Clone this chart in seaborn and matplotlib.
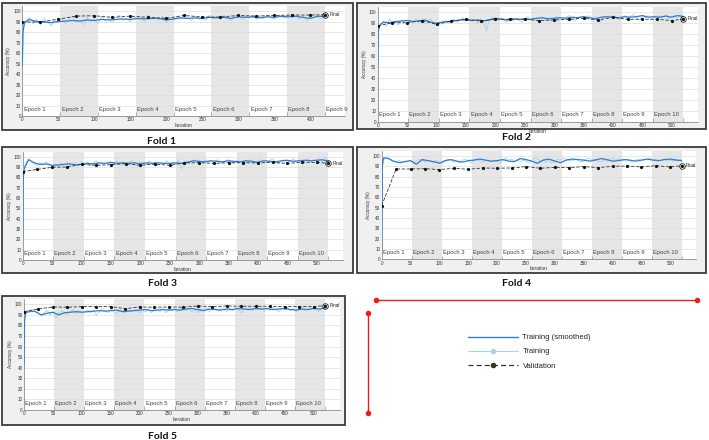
import matplotlib
matplotlib.use("Agg")
import matplotlib.pyplot as plt
from matplotlib.patches import Rectangle
from matplotlib.lines import Line2D
import seaborn as sns

sns.set_style("white")
plt.rcParams['font.family'] = ['Liberation Sans', 'DejaVu Sans']

W, H = 709, 440

# Iteration grids (training every 5 iters, smoothed every 10, validation every 25)
short_train_x = [0, 1] + list(range(5, 421, 5))
short_smooth_x = [0, 1, 3] + list(range(10, 421, 10))
short_val_x = list(range(0, 401, 25)) + [420]
long_train_x = [0, 1] + list(range(5, 521, 5))
long_smooth_x = [0, 1, 3] + list(range(10, 521, 10))
long_val_x = list(range(0, 501, 25)) + [520]

# ---- Fold 1 ----
f1_train = [48, 86,
            91, 94, 88, 92, 87, 93, 90, 86, 91, 89,
            93, 88, 92, 95, 89, 91, 87, 94, 90, 92,
            88, 95, 91, 93, 89, 94, 96, 91, 93, 90,
            95, 92, 94, 90, 96, 92, 94, 91, 95, 89,
            93, 91, 95, 92, 96, 93, 91, 95, 92, 94,
            91, 96, 93, 95, 92, 96, 93, 91, 95, 96,
            92, 95, 93, 96, 92, 95, 93, 96, 94, 92,
            96, 95, 93, 97, 94, 96, 92, 95, 91, 94,
            97, 95, 93, 96]
f1_smooth = [48, 80, 89,
             92, 90, 89.5, 89, 90, 90.5, 91, 90.5, 91.5, 91,
             92, 91.5, 92, 92.5, 92, 93, 92.5, 93, 93, 91.5,
             92.5, 93.5, 93, 93.5, 93, 94, 93.5, 94, 93, 94.5,
             94, 94.5, 93.5, 94.5, 94, 95, 94.5, 95, 94, 93,
             95, 95]
f1_val = [89.5, 89.5, 92.3, 95.2, 95.5, 94, 95.2, 94, 93, 95.8, 94.3, 94.3,
          95.8, 95.2, 95.8, 96.2, 96.2, 96.5]

# ---- Fold 2 ----
f2_train = [50, 86,
            89, 92, 87, 94, 90, 92, 88, 93, 91, 90,
            93, 90, 94, 91, 93, 89, 92, 94, 90, 88,
            91, 89, 93, 90, 92, 94, 91, 93, 95, 92,
            94, 92, 93, 90, 94, 91, 83, 93, 95, 94,
            92, 95, 93, 91, 94, 92, 95, 93, 91, 94,
            96, 93, 95, 92, 94, 96, 93, 95, 92, 94,
            96, 94, 93, 95, 97, 94, 92, 95, 96, 94,
            95, 97, 93, 96, 94, 92, 96, 95, 97, 94,
            96, 93, 95, 97, 94, 96, 98, 95, 93, 96,
            95, 97, 94, 96, 93, 97, 95, 98, 94, 96,
            97, 95, 98, 96]
f2_smooth = [50, 82, 88,
             91, 90.5, 91.5, 92, 92.5, 91.5, 92, 93, 91, 90,
             91, 91.5, 92, 93, 93, 92.5, 93, 92, 93, 94.5,
             93.5, 93, 94, 93.5, 94, 93.5, 94.5, 95, 94, 94.5,
             95, 94.5, 95.5, 95, 96, 95, 94, 95.5, 96, 95.5,
             95, 96, 95.5, 96, 97, 95.5, 96, 95.5, 96.5, 95.5,
             97, 96]
f2_val = [87.5, 90.5, 90.5, 92.4, 89, 92, 93.6, 92, 93.9, 93.6, 93.6, 92.4,
          93, 93.6, 94.5, 93, 95.4, 93.6, 93.6, 93.6, 92.4, 93.9]

# ---- Fold 3 ----
f3_train = [22, 88,
            94, 98, 95, 93, 91, 94, 92, 95, 93, 91,
            93, 90, 94, 92, 95, 91, 93, 94, 92, 95,
            93, 95, 91, 94, 96, 92, 94, 93, 95, 92,
            94, 96, 93, 95, 92, 94, 96, 93, 91, 95,
            94, 92, 96, 93, 95, 91, 94, 93, 96, 92,
            95, 93, 97, 88, 95, 96, 94, 97, 95, 96,
            94, 97, 95, 96, 93, 97, 95, 94, 96, 97,
            95, 93, 97, 95, 96, 94, 97, 95, 93, 96,
            97, 95, 94, 96, 98, 95, 93, 96, 97, 94,
            96, 98, 95, 97, 94, 96, 98, 95, 97, 96,
            98, 95, 99, 96]
f3_smooth = [22, 80, 89,
             97, 94, 92.5, 93, 91.5, 92, 92.5, 93, 92, 92.5,
             93.5, 93, 94, 93.5, 94.5, 93.5, 94, 93.5, 94, 93,
             94, 93.5, 94, 93.5, 93.5, 94, 93.5, 94.5, 96, 95.5,
             95, 96, 95.5, 95, 96, 95.5, 95, 96, 95.5, 94.5,
             96, 95.5, 95, 96, 96.5, 95.5, 96, 96.5, 96, 96.5,
             97, 95.5]
f3_val = [85.5, 87.7, 89.7, 90, 92.6, 91.6, 92.3, 93.2, 91.6, 92.9, 91.6, 93.9,
          94.2, 93.5, 94.2, 94.2, 93.9, 94.5, 93.5, 94.5, 94.5, 93.5]

# ---- Fold 4 ----
f4_train = [12, 90,
            98, 98, 97, 95, 94, 96, 93, 95, 94, 96,
            93, 95, 97, 96, 94, 96, 95, 93, 96, 94,
            92, 95, 97, 96, 94, 95, 93, 96, 97, 95,
            93, 96, 97, 95, 94, 96, 95, 94, 96, 95,
            93, 96, 98, 96, 97, 95, 96, 94, 96, 95,
            93, 96, 98, 97, 95, 96, 94, 96, 93, 95,
            97, 96, 98, 97, 96, 95, 97, 96, 94, 95,
            97, 98, 96, 97, 95, 94, 96, 95, 97, 98,
            96, 97, 95, 96, 97, 95, 94, 96, 97, 95,
            96, 97, 98, 96, 97, 95, 96, 97, 95, 96,
            95, 97, 96, 97]
f4_smooth = [12, 90, 98,
             98, 95, 93.5, 94.5, 95.5, 92, 96.5, 95.5, 94.5, 93,
             95.5, 96.5, 95, 94, 95.5, 96, 97, 96, 95, 95.5,
             96.5, 95, 94.5, 97.5, 96.5, 95, 93, 96, 97, 95,
             93.5, 96, 97, 96.5, 96, 95, 96, 97.5, 96.5, 95,
             95.5, 96.5, 96, 95, 96, 97, 96, 95.5, 96.5, 97,
             96, 95.5]
f4_val = [51.9, 87.4, 87.4, 87.7, 86.8, 88.1, 87.1, 88.4, 88.1, 88.4, 89.7, 88.1,
          89, 88.7, 89.7, 88.7, 90, 90.3, 89.4, 90.6, 89.4, 90.6]

# ---- Fold 5 ----
f5_train = [42, 88,
            94, 92, 95, 93, 91, 89, 92, 94, 90, 93,
            87, 91, 94, 92, 90, 93, 95, 91, 94, 92,
            93, 95, 92, 94, 90, 93, 96, 94, 92, 95,
            93, 91, 95, 94, 92, 96, 93, 95, 94, 92,
            95, 93, 96, 92, 94, 95, 93, 96, 92, 95,
            94, 96, 93, 95, 97, 94, 96, 93, 95, 92,
            96, 94, 97, 93, 95, 96, 94, 97, 95, 93,
            96, 94, 97, 95, 92, 96, 95, 97, 94, 96,
            95, 97, 93, 96, 94, 97, 95, 93, 96, 95,
            97, 94, 96, 93, 95, 97, 94, 96, 95, 97,
            95, 93, 97, 96]
f5_smooth = [42, 85, 92,
             93.5, 93, 90, 91.5, 92.5, 90, 92, 92.5, 93, 92.5,
             93, 93.5, 94, 93.5, 94, 94.5, 93, 93.5, 94, 94.5,
             95, 94, 94.5, 95, 94.5, 95, 94.5, 95.5, 96, 95,
             94, 95.5, 95, 94.5, 95.5, 95, 96, 95.5, 95, 96,
             95.5, 96, 95, 95.5, 96, 95, 94.5, 95.5, 95, 96,
             95.5, 96.5]
f5_val = [93, 95.6, 97.5, 97.2, 97.8, 97.8, 97.8, 95.9, 97.5, 97.2, 97.5, 97.2,
          98.4, 97.8, 98.4, 98.1, 98.1, 98.1, 97.8, 97.8, 97.8, 98.7]

fold_names = ["Fold 1", "Fold 2", "Fold 3", "Fold 4", "Fold 5"]
iters_per_epoch = [52.5, 52, 52, 52, 52]
epoch_labels = [9, 10, 10, 10, 10]
x_max = [448, 545, 545, 545, 545]

SMOOTH_C = "#2a7fd2"
RAW_C = "#a9d1f0"
VAL_C = "#333333"
SHADE_C = "#e6e6e6"


def px_rect(left, top, right, bottom):
    return [left / W, 1 - bottom / H, (right - left) / W, (bottom - top) / H]


def draw_fold(fig, i, box, axbox, title_xy, train_x, train, smooth_x, smooth, val_x, val):
    l, t, r, b = box
    fig.add_artist(Rectangle((l / W, 1 - b / H), (r - l) / W, (b - t) / H,
                             transform=fig.transFigure, facecolor="#f0f0f0",
                             edgecolor="#3c3c3c", lw=1.3, zorder=-1))
    ax = fig.add_axes(px_rect(*axbox))
    ax.set_facecolor("white")
    ep = iters_per_epoch[i]
    xmax = x_max[i]
    # epoch bands and labels
    for e in range(epoch_labels[i]):
        start = e * ep
        end = min((e + 1) * ep, xmax)
        if e % 2 == 1:
            ax.axvspan(start, end, color=SHADE_C, lw=0, zorder=0.2)
        ax.text(start + 2, 6.5, "Epoch %d" % (e + 1), fontsize=4.2,
                color="#444444", va="center", ha="left", zorder=3)
        if (e + 1) * ep < xmax:
            ax.vlines((e + 1) * ep, 0, 3.5, color="#777777", lw=0.4, zorder=3)

    sns.lineplot(x=train_x, y=train, ax=ax, color=RAW_C, lw=0.6,
                 estimator=None, sort=False, zorder=4)
    sns.lineplot(x=smooth_x, y=smooth, ax=ax, color=SMOOTH_C, lw=0.9,
                 estimator=None, sort=False, zorder=5)
    sns.lineplot(x=val_x, y=val, ax=ax, color=VAL_C, lw=0.6,
                 linestyle=(0, (4, 2)), marker="o", markersize=2.3,
                 markeredgewidth=0, markerfacecolor="#111111",
                 estimator=None, sort=False, zorder=6)
    # final validation point
    ax.plot(val_x[-1], val[-1], "o", mfc="none", mec="#222222", ms=4, mew=0.6, zorder=7)
    ax.text(val_x[-1] + 7, val[-1], "Final", fontsize=3.4, va="center",
            ha="left", color="#222222", zorder=7)

    ax.set_xlim(0, xmax)
    ax.set_ylim(0, 105)
    ax.set_xticks(list(range(0, int(xmax) + 1, 50)))
    ax.set_yticks(list(range(0, 101, 10)))
    ax.yaxis.grid(True, color="#dddddd", lw=0.5)
    ax.set_axisbelow(True)
    ax.tick_params(labelsize=3.3, length=1.5, width=0.4, direction="in",
                   pad=1, colors="#333333")
    for s in ["top", "right"]:
        ax.spines[s].set_visible(False)
    for s in ["left", "bottom"]:
        ax.spines[s].set_color("#777777")
        ax.spines[s].set_linewidth(0.5)
    ax.set_xlabel("Iteration", fontsize=3.5, labelpad=0.5, color="#333333")
    ax.set_ylabel("Accuracy (%)", fontsize=3.3, labelpad=1.5, color="#333333")
    fig.text(title_xy[0] / W, 1 - title_xy[1] / H, fold_names[i], fontsize=7.5,
             fontweight="bold", family=["Lato", "DejaVu Sans"], ha="center",
             va="baseline", color="#111111")
    return ax


fig = plt.figure(figsize=(W / 100, H / 100), dpi=100)
fig.patch.set_facecolor("white")

draw_fold(fig, 0, (2, 3, 353, 130), (22.3, 5.8, 22.3 + 448 * 0.72, 116),
          (162, 144), short_train_x, f1_train, short_smooth_x, f1_smooth, short_val_x, f1_val)
draw_fold(fig, 1, (357, 3, 706, 129), (377.7, 6.8, 377.7 + 545 * 0.588, 121.7),
          (517, 139.5), long_train_x, f2_train, long_smooth_x, f2_smooth, long_val_x, f2_val)
draw_fold(fig, 2, (2, 147, 353, 273), (22.7, 151.5, 22.7 + 545 * 0.588, 260),
          (162, 285.7), long_train_x, f3_train, long_smooth_x, f3_smooth, long_val_x, f3_val)
draw_fold(fig, 3, (357, 147, 706, 273), (381.7, 150.8, 381.7 + 545 * 0.577, 259.3),
          (517, 286.5), long_train_x, f4_train, long_smooth_x, f4_smooth, long_val_x, f4_val)
draw_fold(fig, 4, (2, 296, 345, 425), (24, 299, 24 + 545 * 0.579, 410),
          (162, 439), long_train_x, f5_train, long_smooth_x, f5_smooth, long_val_x, f5_val)

# red corner marks
fig.add_artist(Line2D([376 / W, 697 / W], [1 - 300 / H, 1 - 300 / H],
                      transform=fig.transFigure, color="#ee1c1c", lw=1.0,
                      marker="o", ms=3))
fig.add_artist(Line2D([368 / W, 368 / W], [1 - 313 / H, 1 - 413 / H],
                      transform=fig.transFigure, color="#ee1c1c", lw=1.0,
                      marker="o", ms=3))

# legend
handles = [Line2D([], [], color=SMOOTH_C, lw=1.0),
           Line2D([], [], color=RAW_C, lw=0.8, marker="o", ms=4,
                  markerfacecolor=RAW_C, markeredgewidth=0),
           Line2D([], [], color=VAL_C, lw=0.9, linestyle=(0, (4, 2.5)),
                  marker="o", ms=4, markerfacecolor="#333333", markeredgewidth=0)]
fig.legend(handles, ["Training (smoothed)", "Training", "Validation"],
           loc="upper left", bbox_to_anchor=(461 / W, 1 - 327 / H),
           frameon=False, fontsize=5.5, handlelength=6.5, handletextpad=0.65,
           labelspacing=0.9, borderpad=0.4, labelcolor="#222222")

fig.savefig("out.png", dpi=100)
